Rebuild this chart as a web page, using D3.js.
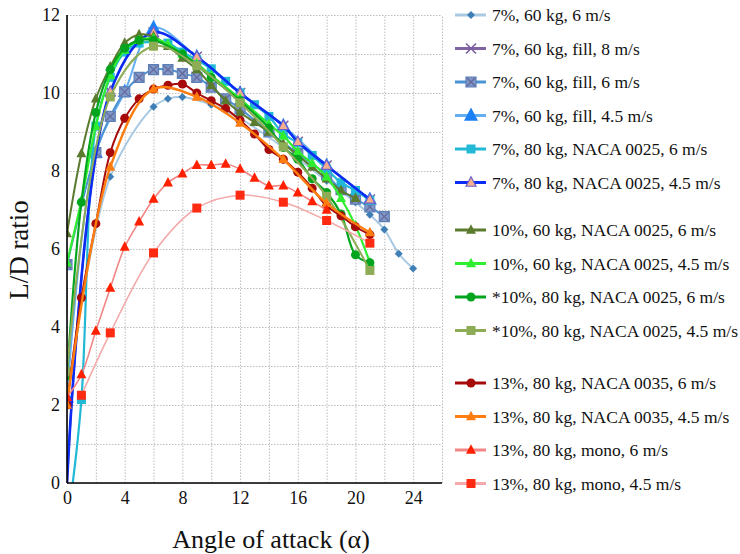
<!DOCTYPE html>
<html>
<head>
<meta charset="utf-8">
<script src="https://cdn.jsdelivr.net/npm/d3@7"></script>
<style>
  body { margin: 0; background: #fff; }
  text { font-family: "Liberation Serif", "DejaVu Serif", serif; fill: #111; }
  .grid line { stroke: #bdbdbd; stroke-dasharray: 1.5,1.5; }
  .grid path { display: none; }
  .axis path, .axis line { stroke: none; }
</style>
</head>
<body>
<svg></svg>
<script>
// series labels, in legend order
let seriesNames = [
    "7%, 60 kg, 6 m/s",
    "7%, 60 kg, fill, 8 m/s",
    "7%, 60 kg, fill, 6 m/s",
    "7%, 60 kg, fill, 4.5 m/s",
    "7%, 80 kg, NACA 0025, 6 m/s",
    "7%, 80 kg, NACA 0025, 4.5 m/s",
    "10%, 60 kg, NACA 0025, 6 m/s",
    "10%, 60 kg, NACA 0025, 4.5 m/s",
    "*10%, 80 kg, NACA 0025, 6 m/s",
    "*10%, 80 kg, NACA 0025, 4.5 m/s",
    "13%, 80 kg, NACA 0035, 6 m/s",
    "13%, 80 kg, NACA 0035, 4.5 m/s",
    "13%, 80 kg, mono, 6 m/s",
    "13%, 80 kg, mono, 4.5 m/s"
];

// angle of attack / L-D ratio
let angle1 = [0, 3, 6, 7, 8, 10, 12, 15, 18, 20, 21, 22, 23, 24];
let ld1 = [2.2, 7.85, 9.65, 9.85, 9.9, 9.7, 9.35, 8.6, 7.75, 7.2, 6.88, 6.5, 5.88, 5.5];

let angle2 = [0, 3, 6, 9, 12, 15, 16, 18, 21];
let ld2 = [0, 10.03, 11.55, 10.93, 10.0, 9.16, 8.75, 8.14, 7.27];

let angle3 = [0, 2, 3, 4, 5, 6, 7, 8, 9, 10, 11, 12, 14, 16, 18, 19, 20, 21, 22];
let ld3 = [5.6, 8.47, 9.4, 10.03, 10.4, 10.6, 10.6, 10.5, 10.4, 10.15, 9.85, 9.6, 9.0, 8.45, 7.9, 7.52, 7.28, 7.08, 6.83];

let angle4 = [0, 2, 4, 6, 9, 12, 15, 18, 21];
let ld4 = [2.2, 8.47, 10.03, 11.67, 10.93, 10.0, 9.16, 8.14, 7.27];

let angle5 = [0.4, 1, 2, 3, 4, 5, 6, 7, 8, 9, 10, 11, 12, 13, 14, 15, 16, 17, 18, 19, 20, 21];
let ld5 = [0, 2.14, 9.15, 10.4, 11.05, 11.28, 11.3, 11.28, 11.05, 10.85, 10.62, 10.3, 10.0, 9.7, 9.4, 8.95, 8.72, 8.4, 8.05, 7.7, 7.5, 7.25];

let angle6 = [0, 3, 6, 9, 12, 15, 16, 18, 21];
let ld6 = [0, 10.03, 11.55, 10.93, 10.0, 9.16, 8.75, 8.14, 7.27];

let angle7 = [0, 1, 2, 3, 4, 5, 6, 7, 8, 9, 10, 11, 12, 13, 14, 15, 16, 17, 18, 19, 20];
let ld7 = [6.4, 8.45, 9.85, 10.67, 11.28, 11.5, 11.45, 11.2, 10.9, 10.6, 10.2, 9.8, 9.5, 9.25, 9.0, 8.7, 8.4, 8.1, 7.8, 7.5, 7.3];

let angle8 = [0, 1, 2, 3, 4, 5, 6, 7, 8, 9, 10, 12, 14, 15, 16, 17, 18, 19, 20, 21];
let ld8 = [5.65, 7.25, 9.15, 10.45, 11.1, 11.35, 11.4, 11.25, 11.0, 10.75, 10.45, 9.85, 9.2, 8.9, 8.5, 8.2, 7.85, 7.3, 6.6, 5.65];

let angle9 = [0, 1, 2, 3, 4, 5, 6, 8, 10, 12, 14, 15, 16, 17, 18, 19, 20, 21];
let ld9 = [2.75, 7.2, 9.5, 10.6, 11.15, 11.35, 11.35, 11.0, 10.4, 9.8, 9.1, 8.6, 8.3, 7.8, 7.45, 6.9, 5.85, 5.65];

let angle10 = [0, 3, 6, 9, 12, 15, 18, 21];
let ld10 = [2.85, 9.9, 11.2, 10.7, 9.75, 8.62, 7.35, 5.45];

let angle11 = [0, 1, 2, 3, 4, 5, 6, 7, 8, 9, 10, 11, 12, 13, 14, 15, 16, 17, 18, 19, 20, 21];
let ld11 = [2.0, 4.75, 6.65, 8.47, 9.35, 9.85, 10.1, 10.2, 10.23, 10.0, 9.8, 9.6, 9.3, 8.95, 8.55, 8.3, 7.97, 7.56, 7.1, 6.85, 6.57, 6.37];

let angle12 = [0, 3, 6, 9, 12, 15, 18, 21];
let ld12 = [2.0, 8.1, 10.1, 9.9, 9.23, 8.3, 7.17, 6.42];

let angle13 = [0, 1, 2, 3, 4, 5, 6, 7, 8, 9, 10, 11, 12, 13, 14, 15, 16, 17, 18];
let ld13 = [2.2, 2.78, 3.9, 5.0, 6.05, 6.7, 7.28, 7.7, 7.93, 8.15, 8.15, 8.18, 8.05, 7.82, 7.62, 7.62, 7.44, 7.22, 7.0];

let angle14 = [1, 3, 6, 9, 12, 15, 18, 21];
let ld14 = [2.25, 3.85, 5.9, 7.05, 7.38, 7.2, 6.73, 6.15];

let xTicks = [0, 4, 8, 12, 16, 20, 24];
let yTicks = [0, 2, 4, 6, 8, 10, 12];

let angles = [angle1, angle2, angle3, angle4, angle5, angle6, angle7, angle8, angle9, angle10, angle11, angle12, angle13, angle14];
let values = [ld1, ld2, ld3, ld4, ld5, ld6, ld7, ld8, ld9, ld10, ld11, ld12, ld13, ld14];

// look of each series: line colour, marker shape, marker fill, marker stroke, size
let styles = [
    {line: "#a9c9e3", width: 2, shape: "diamond", fill: "#3f7fb6", stroke: "none", size: 4},
    {line: "#8064a2", width: 2, shape: "x", fill: "none", stroke: "#7a5fa0", size: 5},
    {line: "#4b93d3", width: 2, shape: "xsquare", fill: "#7f96c6", stroke: "#62679a", size: 5},
    {line: "#62aef0", width: 2, shape: "triangle", fill: "#1b7ff5", stroke: "none", size: 7},
    {line: "#22b9d6", width: 2.2, shape: "square", fill: "#22b9d6", stroke: "none", size: 4.5},
    {line: "#0b2cf5", width: 2.6, shape: "triangle", fill: "#f4b08e", stroke: "#6a5fd0", size: 5},
    {line: "#5a7a2e", width: 2, shape: "triangle", fill: "#5a7a2e", stroke: "none", size: 5},
    {line: "#2fee2f", width: 2.2, shape: "triangle", fill: "#2fee2f", stroke: "none", size: 5},
    {line: "#03a51f", width: 2.2, shape: "circle", fill: "#03a51f", stroke: "none", size: 4.5},
    {line: "#8dac55", width: 2, shape: "square", fill: "#8dac55", stroke: "none", size: 4.5},
    {line: "#a60a0a", width: 2, shape: "circle", fill: "#a60a0a", stroke: "none", size: 4.5},
    {line: "#ff7d0f", width: 2.4, shape: "triangle", fill: "#ff7d0f", stroke: "none", size: 5},
    {line: "#f28585", width: 1.6, shape: "triangle", fill: "#ff2000", stroke: "none", size: 5},
    {line: "#f4aaaa", width: 1.6, shape: "square", fill: "#ff2a12", stroke: "none", size: 4.5}
];

// the big 4.5 m/s markers go under the squared ones
let drawOrder = [0, 1, 3, 2, 4, 5, 6, 7, 8, 9, 10, 11, 12, 13];

let serif = "'Liberation Serif', 'DejaVu Serif', serif";

let svg = d3.select("svg").attr("width", 740).attr("height", 554),
    margin = {top: 15, left: 67},
    width = 375,
    height = 468,
    g = svg.append("g").attr("transform", "translate(" + margin.left + "," + margin.top + ")");

let x = d3.scaleLinear().domain([0, 26]).range([0, width]),
    y = d3.scaleLinear().domain([0, 12]).range([height, 0]);

let series = seriesNames.map(function (name, i) {
    return {
        name: name,
        style: styles[i],
        points: angles[i].map(function (a, j) { return {a: a, v: values[i][j]}; })
    };
});

// gridlines every 2 deg and every 1 unit
g.append("g")
    .attr("class", "grid")
    .attr("transform", "translate(0," + height + ")")
    .call(d3.axisBottom(x).ticks(13).tickSize(-height).tickFormat(""));

g.append("g")
    .attr("class", "grid")
    .call(d3.axisLeft(y).ticks(12).tickSize(-width).tickFormat(""));

g.append("g")
    .attr("class", "axis")
    .attr("transform", "translate(0," + height + ")")
    .call(d3.axisBottom(x).tickValues(xTicks).tickSize(0).tickPadding(8))
    .attr("font-family", serif)
    .attr("font-size", 18);

g.append("g")
    .attr("class", "axis")
    .call(d3.axisLeft(y).tickValues(yTicks).tickSize(0).tickPadding(7))
    .attr("font-family", serif)
    .attr("font-size", 18);

g.append("defs").append("clipPath")
    .attr("id", "plot-clip")
    .append("rect")
    .attr("x", 0).attr("y", 0)
    .attr("width", width).attr("height", height);

let line = d3.line()
    .curve(d3.curveCatmullRom.alpha(0.5))
    .x(function (d) { return x(d.a); })
    .y(function (d) { return y(d.v); });

function markerPath(shape, s) {
    if (shape === "diamond") return "M0," + (-s) + "L" + s + ",0L0," + s + "L" + (-s) + ",0Z";
    if (shape === "square" || shape === "xsquare") return "M" + (-s) + "," + (-s) + "h" + 2 * s + "v" + 2 * s + "h" + (-2 * s) + "Z";
    if (shape === "triangle") return "M0," + (-s * 1.15) + "L" + s + "," + s * 0.75 + "L" + (-s) + "," + s * 0.75 + "Z";
    if (shape === "x") return "M" + (-s) + "," + (-s) + "L" + s + "," + s + "M" + s + "," + (-s) + "L" + (-s) + "," + s;
    return d3.symbol(d3.symbolCircle, Math.PI * s * s)();
}

function drawMarker(sel, st) {
    sel.append("path")
        .attr("d", markerPath(st.shape, st.size))
        .attr("fill", st.fill)
        .attr("stroke", st.shape === "xsquare" ? "#5b7fb8" : st.stroke)
        .attr("stroke-width", st.shape === "x" ? 1.6 : 1.2);
    if (st.shape === "xsquare") {
        sel.append("path")
            .attr("d", markerPath("x", st.size - 1))
            .attr("fill", "none")
            .attr("stroke", st.stroke)
            .attr("stroke-width", 1.2);
    }
}

let plot = g.append("g").attr("clip-path", "url(#plot-clip)");

drawOrder.forEach(function (i) {
    let s = series[i];
    let sg = plot.append("g").attr("class", "series");
    sg.append("path")
        .attr("d", line(s.points))
        .attr("fill", "none")
        .attr("stroke", s.style.line)
        .attr("stroke-width", s.style.width);
    sg.selectAll(".pt")
        .data(s.points.filter(function (d) { return d.v > 0; }))
        .enter().append("g")
        .attr("class", "pt")
        .attr("transform", function (d) { return "translate(" + x(d.a) + "," + y(d.v) + ")"; })
        .each(function () { drawMarker(d3.select(this), s.style); });
});

// black axis lines
g.append("line").attr("x1", 0).attr("x2", 0).attr("y1", 0).attr("y2", height)
    .attr("stroke", "#000").attr("stroke-width", 1.6);
g.append("line").attr("x1", 0).attr("x2", width).attr("y1", height).attr("y2", height)
    .attr("stroke", "#000").attr("stroke-width", 1.6);

// axis titles
svg.append("text")
    .text("L/D ratio")
    .attr("transform", "translate(28,250) rotate(-90)")
    .attr("text-anchor", "middle")
    .style("font-family", serif)
    .style("font-size", "27px");

svg.append("text")
    .text("Angle of attack (\u03b1)")
    .attr("x", 271)
    .attr("y", 548)
    .attr("text-anchor", "middle")
    .style("font-family", serif)
    .style("font-size", "26px");

// legend, three groups
let legend = svg.append("g").attr("transform", "translate(455,0)");
series.forEach(function (s, i) {
    let ly = 15 + i * 33.5 + (i >= 6 ? 14 : 0) + (i >= 10 ? 19 : 0);
    let row = legend.append("g").attr("transform", "translate(0," + ly + ")");
    row.append("line")
        .attr("x1", 0).attr("x2", 31)
        .attr("stroke", s.style.line)
        .attr("stroke-width", 3);
    drawMarker(row.append("g").attr("transform", "translate(16,0)"), s.style);
    row.append("text")
        .text(s.name)
        .attr("x", 37)
        .attr("dy", "0.35em")
        .style("font-family", serif)
        .style("font-size", "17.5px");
});
</script>
</body>
</html>
